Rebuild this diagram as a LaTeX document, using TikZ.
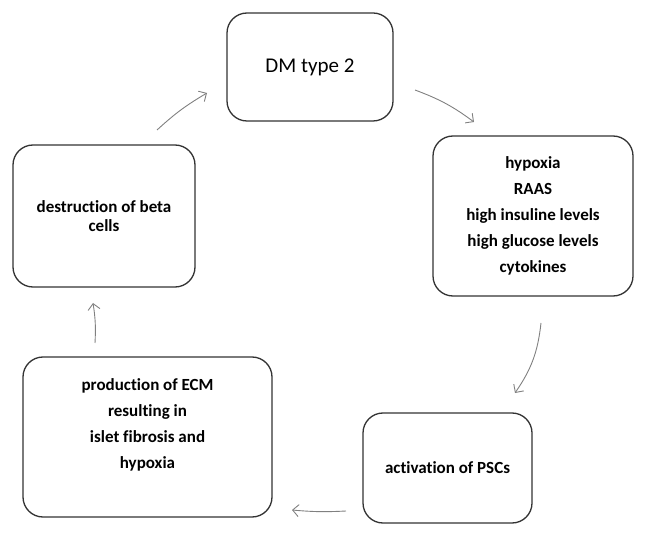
\documentclass[tikz,border=0pt]{standalone}
\usepackage{fontspec}
\setmainfont{Carlito}[Ligatures=NoCommon]
\usetikzlibrary{arrows.meta, positioning}

\begin{document}
\begin{tikzpicture}[x=1pt, y=-1pt,
        box/.style={draw=black!80, line width=1.3pt, rounded corners=20pt, align=center, inner sep=0pt, font=\fontsize{17}{26}\selectfont\bfseries},
        link/.style={draw=black!50, line width=0.9pt, -{Straight Barb[length=6pt, width=12pt]}}]
        \useasboundingbox (0,0) rectangle (648,537);

        \node[box, minimum width=166pt, minimum height=108pt, font=\fontsize{21}{26}\selectfont] (dm) at (310,67) {DM type 2};
        \node[box, minimum width=200pt, minimum height=160pt] (factors) at (533,216) {hypoxia\\RAAS\\high insuline levels\\high glucose levels\\cytokines};
        \node[box, minimum width=169pt, minimum height=110pt] (psc) at (447.5,468) {activation of PSCs};
        \node[box, minimum width=249pt, minimum height=160pt] (ecm) at (147.5,437) {production of ECM\\resulting in\\islet fibrosis and\\hypoxia\\ \mbox{}};
        \node[box, minimum width=182pt, minimum height=142pt, font=\fontsize{17}{19.5}\selectfont\bfseries] (beta) at (104,216) {destruction of beta\\cells};

        \coordinate (beta out) at (157,130);
        \coordinate (dm in) at (207,93);
        \coordinate (dm out) at (415,90);
        \coordinate (factors in) at (474,122);
        \coordinate (factors out) at (541,323);
        \coordinate (psc in) at (515,393);
        \coordinate (psc out) at (346,511);
        \coordinate (ecm in) at (292,510);
        \coordinate (ecm out) at (95,343);
        \coordinate (beta in) at (93,303);

        \draw[link] (beta out) to[bend left=6] (dm in);
        \draw[link] (dm out) to[bend left=8] (factors in);
        \draw[link] (factors out) to[bend left=14] (psc in);
        \draw[link] (psc out) to[bend left=4] (ecm in);
        \draw[link] (ecm out) to[bend right=6] (beta in);
    \end{tikzpicture}
\end{document}
